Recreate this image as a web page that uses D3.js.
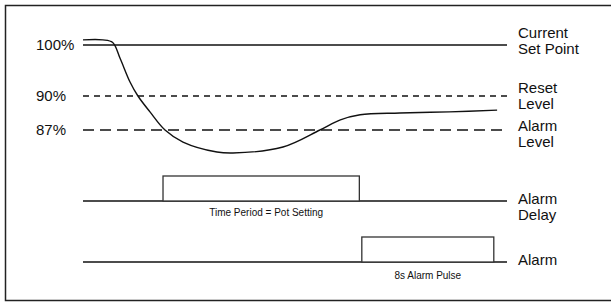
<!DOCTYPE html>
<html lang="en">
<head>
<meta charset="UTF-8">
<title>Alarm timing</title>
<script src="https://cdn.jsdelivr.net/npm/d3@7"></script>
<style>
  body { margin: 0; background: #fff; }
  text { font-family: "Liberation Sans", Arial, sans-serif; fill: #111; }
</style>
</head>
<body>
<script>

// levels, in percent of the set point
var levels = [100, 90, 87];
var levelTicks = ["100%", "90%", "87%"];
var levelNames = [["Current", "Set Point"], ["Reset", "Level"], ["Alarm", "Level"]];

// process value over time (seconds, percent)
var curveT = [0, 1.2, 1.8, 2.24, 2.85, 3.33, 4.06, 4.97, 6.06, 8.12, 9.09, 12.12, 14.36, 15.6, 16.8, 19.2, 22.2, 25.1];
var curveV = [101, 101, 100.5, 97.45, 92.75, 90, 88.6, 87, 85.94, 85.06, 84.97, 85.5, 87, 87.9, 88.35, 88.5, 88.6, 88.75];

// output rows and their pulses (start, end in seconds)
var rows = ["Alarm Delay", "Alarm"];
var rowNames = [["Alarm", "Delay"], ["Alarm"]];
var pulseStart = [4.85, 16.9];
var pulseEnd = [16.75, 24.9];
var pulseLabels = ["Time Period = Pot Setting", "8s Alarm Pulse"];

var width = 611, height = 302;
var tEnd = 25.7;

var svg = d3.select("body").append("svg")
    .attr("width", width)
    .attr("height", height);

// frame, right side runs off the picture
svg.append("rect")
    .attr("x", 5.5).attr("y", 5.5)
    .attr("width", 620).attr("height", 295)
    .attr("fill", "none")
    .attr("stroke", "#222")
    .attr("stroke-width", 1.5);

var x = d3.scaleLinear().domain([0, tEnd]).range([83, 507]);
// schematic, not to scale: one segment per level gap
var y = d3.scaleLinear().domain([87, 90, 100]).range([130, 96, 45]);
var rowY = d3.scalePoint().domain(rows).range([201, 262]);

var dashes = [null, "6,5", "11,6"];

svg.append("g").selectAll("line")
    .data(levels)
    .enter()
    .append("line")
    .attr("x1", x(0))
    .attr("x2", x(tEnd))
    .attr("y1", function(d) { return y(d); })
    .attr("y2", function(d) { return y(d); })
    .attr("stroke", "#111")
    .attr("stroke-width", 1.5)
    .attr("stroke-dasharray", function(d, i) { return dashes[i]; });

svg.append("g").selectAll("text")
    .data(levels)
    .enter()
    .append("text")
    .attr("x", 36)
    .attr("y", function(d) { return y(d); })
    .attr("dy", "0.35em")
    .attr("font-size", "15px")
    .text(function(d, i) { return levelTicks[i]; });

// two line labels on the right, one text per line
var nameOffsets = [-12, -8, -4];
levels.forEach(function(v, i) {
    levelNames[i].forEach(function(s, j) {
        svg.append("text")
            .attr("x", 518)
            .attr("y", y(v) + nameOffsets[i] + j * 16 + 5)
            .attr("font-size", "15px")
            .text(s);
    });
});

// the signal
var pts = curveT.map(function(t, i) { return [t, curveV[i]]; });
svg.append("path")
    .datum(pts)
    .attr("fill", "none")
    .attr("stroke", "#111")
    .attr("stroke-width", 1.4)
    .attr("d", d3.line()
        .x(function(d) { return x(d[0]); })
        .y(function(d) { return y(d[1]); })
        .curve(d3.curveCatmullRom.alpha(0.5)));

// output rows
rows.forEach(function(r, i) {
    var base = rowY(r);
    svg.append("line")
        .attr("x1", x(0)).attr("x2", x(tEnd))
        .attr("y1", base).attr("y2", base)
        .attr("stroke", "#111")
        .attr("stroke-width", 1.5);
    svg.append("rect")
        .attr("x", x(pulseStart[i]))
        .attr("y", base - 25)
        .attr("width", x(pulseEnd[i]) - x(pulseStart[i]))
        .attr("height", 25)
        .attr("fill", "#fff")
        .attr("stroke", "#333")
        .attr("stroke-width", 1.3);
    svg.append("text")
        .attr("x", (x(pulseStart[i]) + x(pulseEnd[i])) / 2 + (i === 0 ? 5 : 0))
        .attr("y", base + (i === 0 ? 15 : 17))
        .attr("text-anchor", "middle")
        .attr("font-size", "10px")
        .text(pulseLabels[i]);
    rowNames[i].forEach(function(s, j) {
        svg.append("text")
            .attr("x", 518)
            .attr("y", base + 3 + j * 16)
            .attr("font-size", "15px")
            .text(s);
    });
});

</script>
</body>
</html>
